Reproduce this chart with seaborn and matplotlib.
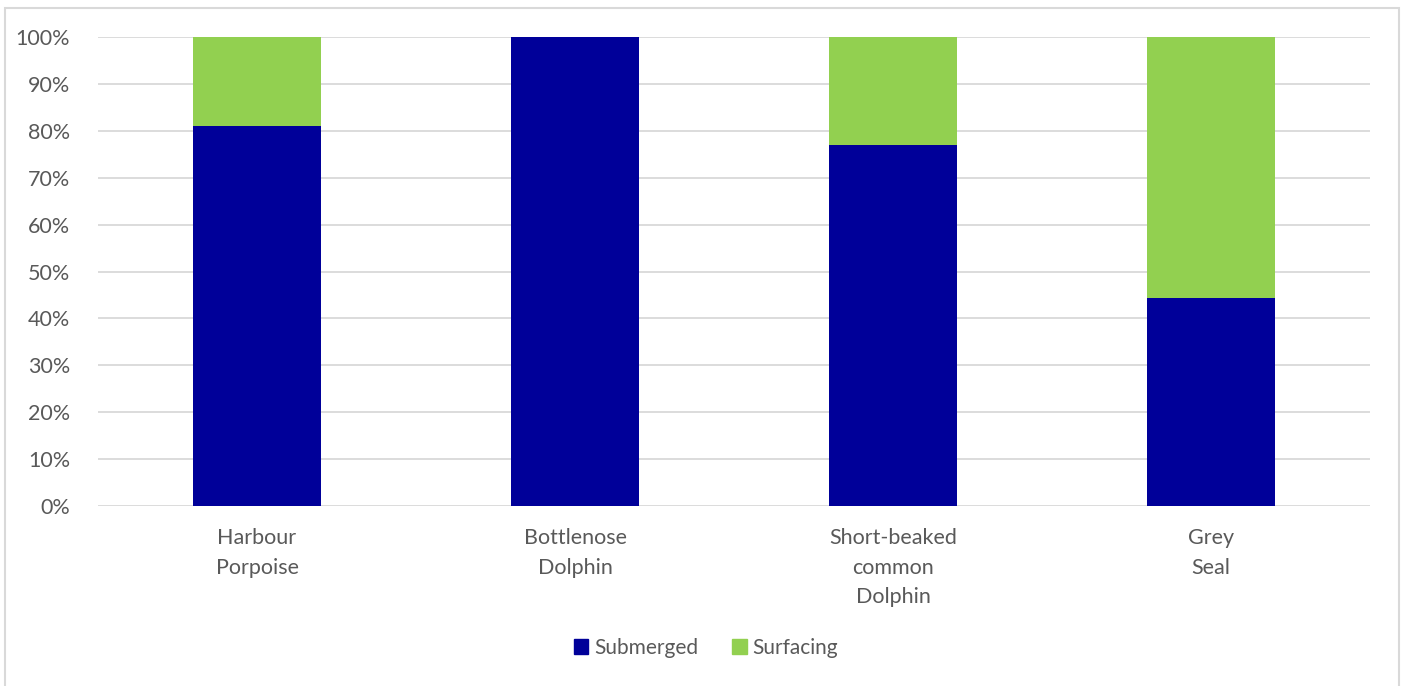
import numpy as np
import pandas as pd
import seaborn as sns
import matplotlib.pyplot as plt
from matplotlib.patches import Rectangle, Patch
from matplotlib.ticker import PercentFormatter

# data
species = ['Harbour\nPorpoise', 'Bottlenose\nDolphin', 'Short-beaked\ncommon\nDolphin', 'Grey\nSeal']
submerged = [81.0, 100.0, 77.0, 44.3]
surfacing = [19.0, 0.0, 23.0, 55.7]

blue = '#000099'
green = '#92D050'
grey_text = '#595959'

df = pd.DataFrame({'species': species, 'submerged': submerged, 'surfacing': surfacing})
df['total'] = df['submerged'] + df['surfacing']

sns.set_style('white')
plt.rcParams['font.family'] = ['Lato', 'DejaVu Sans']

fig = plt.figure(figsize=(14.02, 6.86), dpi=100)
ax = fig.add_axes([98 / 1402, (686 - 506) / 686, (1370 - 98) / 1402, (506 - 37) / 686])

# stacked: draw total in green first, then submerged on top
sns.barplot(data=df, x='species', y='total', color=green, width=0.4, saturation=1,
            linewidth=0, ax=ax, zorder=3)
sns.barplot(data=df, x='species', y='submerged', color=blue, width=0.4, saturation=1,
            linewidth=0, ax=ax, zorder=3)

ax.set_ylim(0, 100)
ax.set_xlim(-0.5, len(species) - 0.5)
ax.set_yticks(np.arange(0, 101, 10))
ax.yaxis.set_major_formatter(PercentFormatter(decimals=0))
ax.grid(axis='y', color='#D9D9D9', linewidth=1.3, zorder=0)
ax.set_xlabel('')
ax.set_ylabel('')
for s in ax.spines.values():
    s.set_visible(False)
ax.tick_params(axis='both', length=0, labelsize=15.5, colors=grey_text)
ax.tick_params(axis='x', pad=16)
ax.tick_params(axis='y', pad=20)
for lbl in ax.get_xticklabels():
    lbl.set_linespacing(1.6)

handles = [Patch(color=blue, label='Submerged'), Patch(color=green, label='Surfacing')]
leg = fig.legend(handles=handles, loc='center', bbox_to_anchor=(706 / 1402, 1 - 648 / 686),
                 ncol=2, frameon=False, fontsize=15, handlelength=0.7, handleheight=0.7,
                 handletextpad=0.3, columnspacing=1.6)
for t in leg.get_texts():
    t.set_color(grey_text)

# outer chart frame
fig.patches.append(Rectangle((5 / 1402, -0.02), 1394 / 1402, 1.02 - 8 / 686, transform=fig.transFigure,
                             fill=False, edgecolor='#D9D9D9', linewidth=1.5))

fig.savefig('out.png', dpi=100)
